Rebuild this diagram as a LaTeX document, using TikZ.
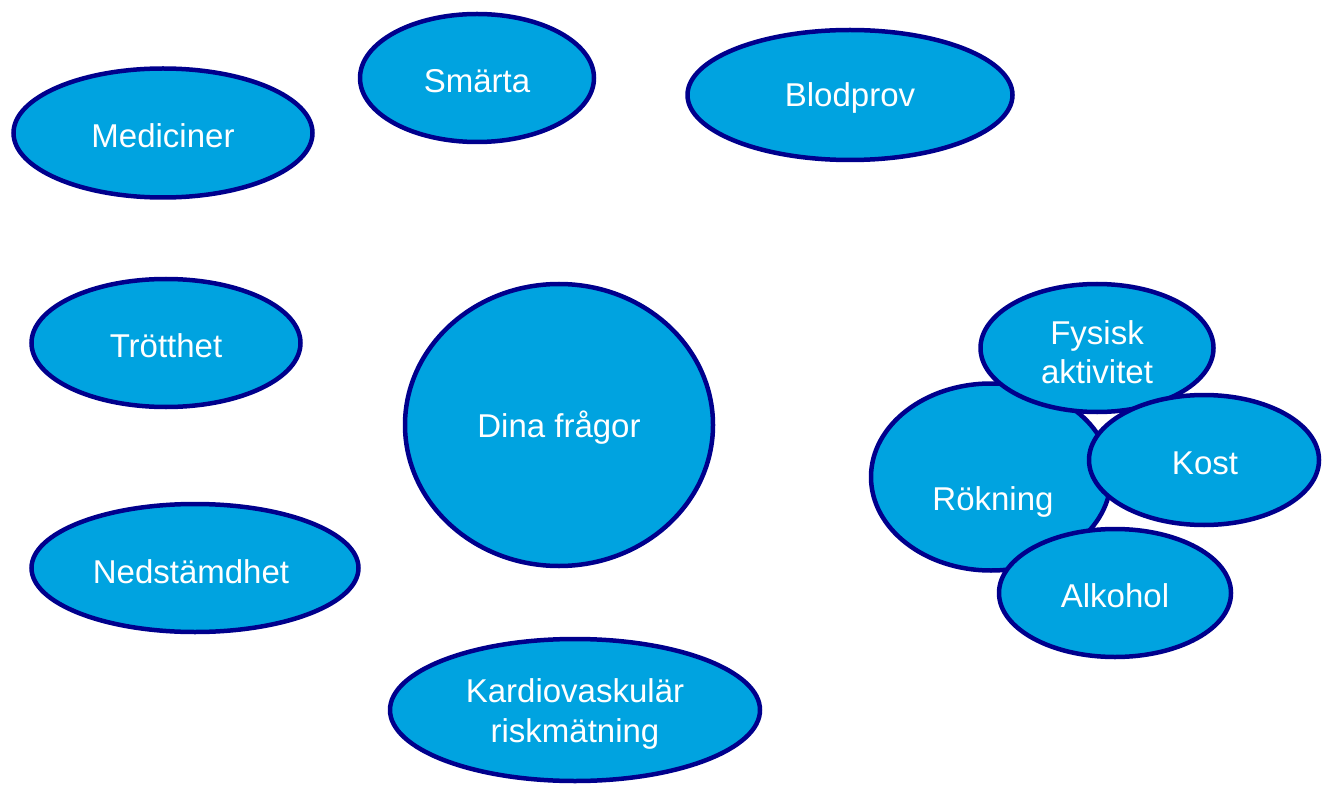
\documentclass[tikz,border=0pt]{standalone}
\usepackage{fontspec}
\setmainfont{Liberation Sans}
\usetikzlibrary{shapes.geometric}
\definecolor{bubble}{RGB}{0,163,224}
\definecolor{rim}{RGB}{0,0,140}
\tikzset{
  bub/.style n args={2}{ellipse, draw=rim, fill=bubble, line width=4.5pt,
    minimum width=#1pt, minimum height=#2pt, inner sep=0pt},
  lbl/.style={text=white, font=\fontsize{33}{39.5}\selectfont, align=center, inner sep=0pt}
}
\begin{document}
\begin{tikzpicture}[x=1pt,y=-1pt]
\useasboundingbox (0,0) rectangle (1322,786);
\node[bub={299}{129}] (med) at (163,133) {};
\node[lbl] (medt) at (163,136) {Mediciner};
\node[bub={234}{128}] (sma) at (477,78) {};
\node[lbl] (smat) at (477,81) {Smärta};
\node[bub={325}{130}] (blo) at (850,95) {};
\node[lbl] (blot) at (850,98) {Blodprov};
\node[bub={269}{128}] (tro) at (166,343) {};
\node[lbl] (trot) at (166,346) {Trötthet};
\node[bub={308}{282}] (din) at (559,425) {};
\node[lbl] (dint) at (559,428) {Dina frågor};
\node[bub={327}{128}] (ned) at (195,568) {};
\node[lbl] (nedt) at (191,572) {Nedstämdhet};
\node[bub={370}{142}] (kar) at (575,710) {};
\node[lbl] (kart) at (575,714) {Kardiovaskulär\\riskmätning};
\node[bub={240}{187}] (rok) at (991,477) {};
\node[lbl] (rokt) at (993,502) {Rökning};
\node[bub={233}{128}] (fys) at (1097,348) {};
\node[lbl] (fyst) at (1097,352) {Fysisk\\aktivitet};
\node[bub={230}{130}] (kos) at (1204,460) {};
\node[lbl] (kost) at (1205,463) {Kost};
\node[bub={232}{128}] (alk) at (1115,593) {};
\node[lbl] (alkt) at (1115,596) {Alkohol};
\end{tikzpicture}
\end{document}
